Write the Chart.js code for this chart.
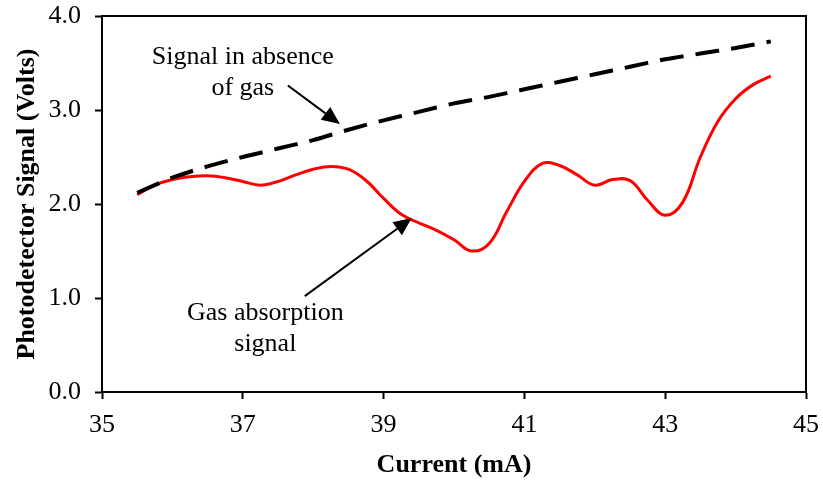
<!DOCTYPE html>
<html>
<head>
<meta charset="utf-8">
<script src="https://cdn.jsdelivr.net/npm/chart.js@4"></script>
<style>
  html, body { margin: 0; padding: 0; background: #fff; }
  #wrap { width: 823px; height: 481px; }
</style>
</head>
<body>
<div id="wrap"><canvas id="chart" width="823" height="481"></canvas></div>
<script>
// 데이터 -----------
const gasCurrent = [35.5, 35.75, 36, 36.25, 36.5, 36.75, 37, 37.25, 37.5, 37.75, 38, 38.25, 38.5, 38.75,
  39, 39.25, 39.5, 39.75, 40, 40.25, 40.5, 40.75, 41, 41.25, 41.5, 41.75, 42, 42.25, 42.5, 42.75,
  43, 43.25, 43.5, 43.75, 44, 44.25, 44.5];
const gasSignal = [2.10, 2.20, 2.26, 2.29, 2.30, 2.28, 2.24, 2.20, 2.24, 2.31, 2.37, 2.40, 2.37, 2.25,
  2.06, 1.89, 1.80, 1.72, 1.62, 1.50, 1.58, 1.92, 2.24, 2.43, 2.41, 2.31, 2.20, 2.26, 2.25, 2.04,
  1.88, 2.02, 2.50, 2.88, 3.12, 3.27, 3.36];
const noGasCurrent = [35.5, 36, 36.5, 37, 37.5, 38, 38.5, 39, 39.5, 40, 40.5, 41, 41.5, 42, 42.5, 43, 43.5, 44, 44.5];
const noGasSignal = [2.12, 2.28, 2.40, 2.50, 2.59, 2.68, 2.79, 2.89, 2.98, 3.07, 3.14, 3.22, 3.30, 3.38, 3.46, 3.54, 3.60, 3.66, 3.73];
const xTicks = [35, 37, 39, 41, 43, 45];
const yTicks = [0, 1, 2, 3, 4];

const FONT = "'Liberation Serif', 'Times New Roman', serif";

// 화살표 주석 (데이터 좌표)
const notes = [
  { lines: ['Signal in absence', 'of gas'], x: 37.0, y: 3.56, from: [37.64, 3.26], to: [38.38, 2.85] },
  { lines: ['Gas absorption', 'signal'], x: 37.32, y: 0.84, from: [37.88, 1.02], to: [39.40, 1.85] }
];

const framePlugin = {
  id: 'frame',
  afterDatasetsDraw(chart) {
    const {ctx, chartArea: a, scales: {x, y}} = chart;
    ctx.save();
    // 위, 오른쪽 테두리
    ctx.strokeStyle = '#000';
    ctx.lineWidth = 2;
    ctx.beginPath();
    ctx.moveTo(a.left, a.top);
    ctx.lineTo(a.right, a.top);
    ctx.lineTo(a.right, a.bottom);
    ctx.stroke();

    ctx.font = '26px ' + FONT;
    ctx.fillStyle = '#000';
    ctx.textAlign = 'center';
    ctx.textBaseline = 'middle';
    notes.forEach(n => {
      n.lines.forEach((t, i) => {
        ctx.fillText(t, x.getPixelForValue(n.x), y.getPixelForValue(n.y) + i * 31);
      });
      const x1 = x.getPixelForValue(n.from[0]), y1 = y.getPixelForValue(n.from[1]);
      const x2 = x.getPixelForValue(n.to[0]), y2 = y.getPixelForValue(n.to[1]);
      const ang = Math.atan2(y2 - y1, x2 - x1);
      const head = 18, half = 8;
      ctx.lineWidth = 2;
      ctx.beginPath();
      ctx.moveTo(x1, y1);
      ctx.lineTo(x2 - head * Math.cos(ang), y2 - head * Math.sin(ang));
      ctx.stroke();
      ctx.beginPath();
      ctx.moveTo(x2, y2);
      ctx.lineTo(x2 - head * Math.cos(ang) + half * Math.sin(ang), y2 - head * Math.sin(ang) - half * Math.cos(ang));
      ctx.lineTo(x2 - head * Math.cos(ang) - half * Math.sin(ang), y2 - head * Math.sin(ang) + half * Math.cos(ang));
      ctx.closePath();
      ctx.fill();
    });
    ctx.restore();
  }
};

new Chart(document.getElementById('chart'), {
  type: 'line',
  data: {
    datasets: [
      {
        label: 'Signal in absence of gas',
        data: noGasCurrent.map((c, i) => ({x: c, y: noGasSignal[i]})),
        borderColor: '#000',
        borderWidth: 4,
        borderDash: [24, 12],
        pointRadius: 0,
        tension: 0.3,
        fill: false
      },
      {
        label: 'Gas absorption signal',
        data: gasCurrent.map((c, i) => ({x: c, y: gasSignal[i]})),
        borderColor: '#ff0000',
        borderWidth: 3,
        pointRadius: 0,
        tension: 0.4,
        fill: false
      }
    ]
  },
  options: {
    responsive: false,
    animation: false,
    layout: { padding: { left: 0, top: 16, right: 17, bottom: 0 } },
    plugins: {
      legend: { display: false },
      tooltip: { enabled: false }
    },
    scales: {
      x: {
        type: 'linear',
        min: 35,
        max: 45,
        afterFit(scale) {
          scale.height = 89;
          scale.paddingLeft = 0;
          scale.paddingRight = 0;
        },
        afterBuildTicks(scale) { scale.ticks = xTicks.map(v => ({value: v})); },
        grid: { drawOnChartArea: false, tickLength: 7, tickColor: '#000', tickWidth: 2 },
        border: { color: '#000', width: 2 },
        ticks: {
          color: '#000',
          padding: 11,
          maxRotation: 0,
          font: { family: FONT, size: 26 }
        },
        title: {
          display: true,
          text: 'Current (mA)',
          color: '#000',
          padding: { top: 0, bottom: 0 },
          font: { family: FONT, size: 26, weight: 'bold' }
        }
      },
      y: {
        min: 0,
        max: 4,
        afterFit(scale) {
          scale.width = 102;
          scale.paddingTop = 0;
          scale.paddingBottom = 0;
        },
        afterBuildTicks(scale) { scale.ticks = yTicks.map(v => ({value: v})); },
        grid: { drawOnChartArea: false, tickLength: 7, tickColor: '#000', tickWidth: 2 },
        border: { color: '#000', width: 2 },
        ticks: {
          color: '#000',
          padding: 14,
          font: { family: FONT, size: 26 },
          callback: v => v.toFixed(1)
        },
        title: {
          display: true,
          text: 'Photodetector Signal (Volts)',
          color: '#000',
          padding: { top: 12, bottom: 0 },
          font: { family: FONT, size: 26, weight: 'bold' }
        }
      }
    }
  },
  plugins: [framePlugin]
});
</script>
</body>
</html>
